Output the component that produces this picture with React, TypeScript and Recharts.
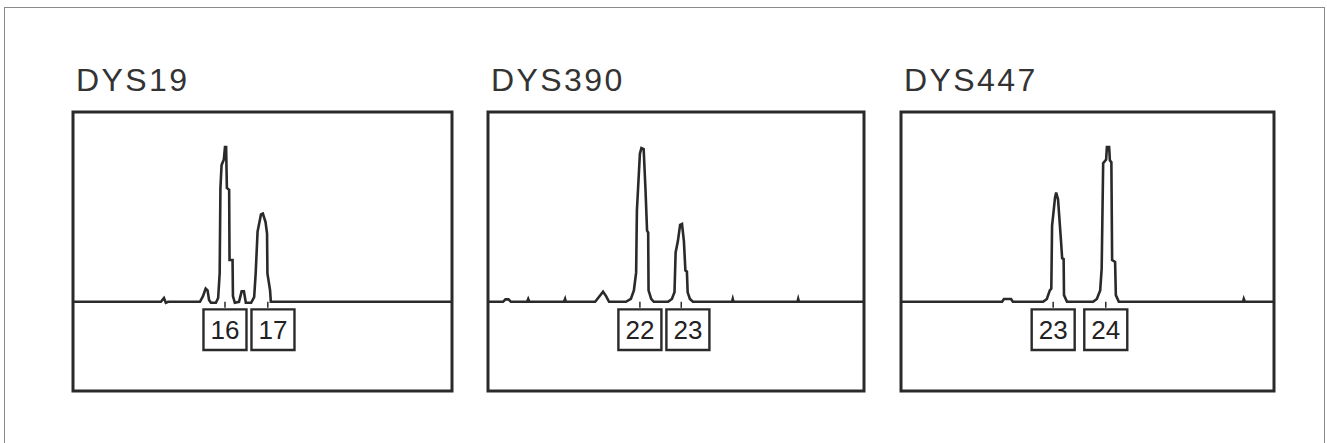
import { LineChart, Line, XAxis, YAxis, ReferenceArea, ReferenceLine } from 'recharts';

// electropherogram traces: pos = relative scan position (0-100), rfu = relative signal (baseline 0)
const dys19Trace = [
  { pos: 0, rfu: 0 }, { pos: 23.2, rfu: 0 }, { pos: 24.0, rfu: 2 }, { pos: 24.5, rfu: -0.5 }, { pos: 25.1, rfu: 0 },
  { pos: 33.5, rfu: 0 }, { pos: 34.3, rfu: 3 }, { pos: 35.0, rfu: 7 }, { pos: 35.5, rfu: 6 }, { pos: 35.9, rfu: 1 },
  { pos: 36.4, rfu: -0.5 }, { pos: 37.7, rfu: -0.5 }, { pos: 38.3, rfu: 2 }, { pos: 38.7, rfu: 15 }, { pos: 38.9, rfu: 60 },
  { pos: 39.2, rfu: 72 }, { pos: 39.8, rfu: 75 }, { pos: 40.1, rfu: 81.5 }, { pos: 40.4, rfu: 81.5 }, { pos: 40.6, rfu: 60 },
  { pos: 41.2, rfu: 59 }, { pos: 41.3, rfu: 22 }, { pos: 42.1, rfu: 22 }, { pos: 42.2, rfu: 3 }, { pos: 42.7, rfu: -0.5 },
  { pos: 43.8, rfu: 0 }, { pos: 44.5, rfu: 5.5 }, { pos: 45.1, rfu: 5.5 }, { pos: 45.6, rfu: -0.5 }, { pos: 47.0, rfu: -0.5 },
  { pos: 47.8, rfu: 2.5 }, { pos: 48.2, rfu: 15 }, { pos: 48.7, rfu: 37 }, { pos: 49.6, rfu: 46 }, { pos: 50.1, rfu: 46.5 },
  { pos: 50.8, rfu: 42 }, { pos: 51.2, rfu: 36 }, { pos: 51.3, rfu: 15 }, { pos: 52.0, rfu: 6 }, { pos: 52.2, rfu: 0 },
  { pos: 100, rfu: 0 },
];

const dys390Trace = [
  { pos: 0, rfu: 0 }, { pos: 4.0, rfu: 0 }, { pos: 4.65, rfu: 1.3 }, { pos: 5.45, rfu: 1.3 }, { pos: 6.1, rfu: 0 },
  { pos: 10.4, rfu: 0 }, { pos: 10.7, rfu: 1.5 }, { pos: 11.0, rfu: 0 },
  { pos: 20.2, rfu: 0 }, { pos: 20.5, rfu: 1.5 }, { pos: 20.7, rfu: 0 },
  { pos: 28.5, rfu: 0 }, { pos: 29.5, rfu: 2.5 }, { pos: 30.6, rfu: 5.3 }, { pos: 31.4, rfu: 3 }, { pos: 32.2, rfu: 0 },
  { pos: 36.7, rfu: 0 }, { pos: 38.0, rfu: 1.5 }, { pos: 38.8, rfu: 6 }, { pos: 39.4, rfu: 15.5 }, { pos: 39.6, rfu: 48 },
  { pos: 40.4, rfu: 78 }, { pos: 40.8, rfu: 81 }, { pos: 41.4, rfu: 80.5 }, { pos: 41.9, rfu: 58.5 }, { pos: 42.3, rfu: 37.5 },
  { pos: 42.6, rfu: 36.5 }, { pos: 42.7, rfu: 6 }, { pos: 43.4, rfu: 1.5 }, { pos: 44.1, rfu: 0 },
  { pos: 47.9, rfu: 0 }, { pos: 48.9, rfu: 1.5 }, { pos: 49.6, rfu: 5 }, { pos: 49.9, rfu: 26 }, { pos: 50.5, rfu: 32 },
  { pos: 51.1, rfu: 40.5 }, { pos: 51.6, rfu: 41 }, { pos: 52.1, rfu: 32 }, { pos: 52.5, rfu: 16.5 }, { pos: 52.9, rfu: 16 },
  { pos: 53.1, rfu: 5 }, { pos: 53.7, rfu: 1.5 }, { pos: 54.5, rfu: 0 },
  { pos: 64.9, rfu: 0 }, { pos: 65.1, rfu: 1.5 }, { pos: 65.3, rfu: 0 },
  { pos: 82.3, rfu: 0 }, { pos: 82.5, rfu: 1.5 }, { pos: 82.7, rfu: 0 },
  { pos: 100, rfu: 0 },
];

const dys447Trace = [
  { pos: 0, rfu: 0 }, { pos: 27.1, rfu: 0 }, { pos: 27.6, rfu: 1.5 }, { pos: 29.5, rfu: 1.5 }, { pos: 30.0, rfu: 0 },
  { pos: 38.1, rfu: 0 }, { pos: 39.1, rfu: 1.5 }, { pos: 39.9, rfu: 6 }, { pos: 40.3, rfu: 7 }, { pos: 40.5, rfu: 40 },
  { pos: 41.3, rfu: 55 }, { pos: 41.6, rfu: 57.5 }, { pos: 42.1, rfu: 54 }, { pos: 42.9, rfu: 32 }, { pos: 43.2, rfu: 23 },
  { pos: 43.6, rfu: 22.5 }, { pos: 43.7, rfu: 3.5 }, { pos: 44.5, rfu: 0 },
  { pos: 51.5, rfu: 0 }, { pos: 52.5, rfu: 1.5 }, { pos: 53.4, rfu: 6 }, { pos: 53.8, rfu: 17.5 }, { pos: 54.2, rfu: 73 },
  { pos: 55.0, rfu: 75 }, { pos: 55.2, rfu: 81.5 }, { pos: 55.8, rfu: 81.5 }, { pos: 56.0, rfu: 74.5 }, { pos: 56.4, rfu: 73.5 },
  { pos: 56.6, rfu: 22 }, { pos: 57.4, rfu: 21 }, { pos: 57.6, rfu: 3.5 }, { pos: 58.4, rfu: 0 },
  { pos: 91.7, rfu: 0 }, { pos: 91.9, rfu: 1.5 }, { pos: 92.2, rfu: 0 },
  { pos: 100, rfu: 0 },
];

// allele calls: label + position of the call tick
const dys19Calls = [{ allele: '16', pos: 40.1 }, { allele: '17', pos: 51.4 }];
const dys390Calls = [{ allele: '22', pos: 40.4 }, { allele: '23', pos: 51.4 }];
const dys447Calls = [{ allele: '23', pos: 40.8 }, { allele: '24', pos: 54.9 }];

const panels = [
  { title: 'DYS19', trace: dys19Trace, calls: dys19Calls, left: 73, width: 379 },
  { title: 'DYS390', trace: dys390Trace, calls: dys390Calls, left: 488, width: 376 },
  { title: 'DYS447', trace: dys447Trace, calls: dys447Calls, left: 901, width: 373 },
];

const INK = '#2a2a2a';
const FONT = '"Liberation Sans", Arial, sans-serif';
const PLOT_TOP = 112;
const PLOT_H = 279;
const M = 3;
const Y_MIN = -47;
const Y_MAX = 100;

function layoutBoxes(calls: { allele: string; pos: number }[], plotWidth: number) {
  const unit = plotWidth / 100;
  const half = 21.5 / unit;
  const gap = 5 / unit;
  let prevRight = -Infinity;
  return calls.map((c) => {
    let x1 = c.pos - half;
    if (x1 < prevRight + gap) x1 = prevRight + gap;
    const x2 = x1 + half * 2;
    prevRight = x2;
    return { ...c, x1, x2 };
  });
}

function Panel({ title, trace, calls, left, width }: typeof panels[number]) {
  const boxes = layoutBoxes(calls, width);
  return (
    <>
      <div
        style={{
          position: 'absolute',
          left: left + 3,
          top: 64,
          fontFamily: FONT,
          fontSize: 32,
          lineHeight: '32px',
          letterSpacing: 2.4,
          color: '#333',
          whiteSpace: 'nowrap',
        }}
      >
        {title}
      </div>
      <div style={{ position: 'absolute', left: left - M, top: PLOT_TOP - M }}>
        <LineChart
          width={width + M * 2}
          height={PLOT_H + M * 2}
          data={trace}
          margin={{ top: M, right: M, bottom: M, left: M }}
        >
          <XAxis dataKey="pos" type="number" domain={[0, 100]} hide />
          <YAxis type="number" domain={[Y_MIN, Y_MAX]} hide allowDataOverflow />
          <ReferenceArea x1={0} x2={100} y1={Y_MIN} y2={Y_MAX} fill="#fff" fillOpacity={1} stroke={INK} strokeWidth={3} />
          {boxes.map((b) => (
            <ReferenceArea
              key={`box-${b.allele}`}
              x1={b.x1}
              x2={b.x2}
              y1={-4}
              y2={-25.4}
              fill="#fff"
              fillOpacity={1}
              stroke={INK}
              strokeWidth={2.4}
              label={{ value: b.allele, position: 'center', fill: '#222', fontSize: 26, fontFamily: FONT }}
            />
          ))}
          {boxes.map((b) => (
            <ReferenceLine
              key={`tick-${b.allele}`}
              segment={[{ x: b.pos, y: 0 }, { x: b.pos, y: -3.2 }]}
              stroke={INK}
              strokeWidth={1.5}
            />
          ))}
          <Line
            type="linear"
            dataKey="rfu"
            stroke={INK}
            strokeWidth={2.6}
            dot={false}
            activeDot={false}
            isAnimationActive={false}
          />
        </LineChart>
      </div>
    </>
  );
}

export default function App() {
  return (
    <div
      style={{
        position: 'absolute',
        left: 0,
        top: 0,
        width: 1327,
        height: 443,
        background: '#fff',
        overflow: 'hidden',
      }}
    >
      <div
        style={{
          position: 'absolute',
          left: 4,
          top: 7,
          width: 1321,
          height: 500,
          border: '1.5px solid #8a8a8a',
          boxSizing: 'border-box',
        }}
      />
      {panels.map((p) => (
        <Panel key={p.title} {...p} />
      ))}
    </div>
  );
}
